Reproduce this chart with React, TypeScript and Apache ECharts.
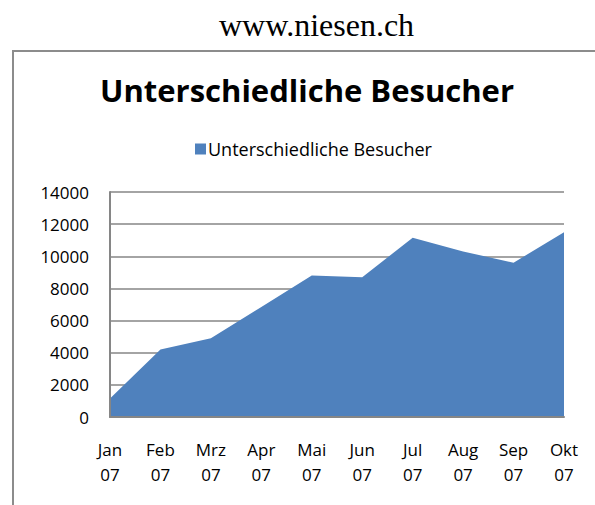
import React, { useEffect, useRef } from "react";
import * as echarts from "echarts";

const months = ["Jan\n07", "Feb\n07", "Mrz\n07", "Apr\n07", "Mai\n07", "Jun\n07", "Jul\n07", "Aug\n07", "Sep\n07", "Okt\n07"];
const visitors = [1150, 4200, 4900, 6850, 8800, 8700, 11150, 10300, 9600, 11500];
const seriesName = "Unterschiedliche Besucher";
const siteTitle = "www.niesen.ch";
const chartTitle = "Unterschiedliche Besucher";

export default function App() {
  const ref = useRef<HTMLDivElement>(null);
  useEffect(() => {
    if (!ref.current) return;
    const chart = echarts.init(ref.current, undefined, { renderer: "svg" });
    const gray = "#868686";
    chart.setOption({
      animation: false,
      backgroundColor: "#ffffff",
      title: [
        {
          text: siteTitle,
          left: 316.5,
          top: 9,
          padding: 0,
          textAlign: "center",
          textStyle: { fontFamily: "Liberation Serif", fontSize: 32, fontWeight: "normal", color: "#000" },
        },
        {
          text: chartTitle,
          left: 307,
          top: 74,
          padding: 0,
          textAlign: "center",
          textStyle: { fontFamily: "Open Sans", fontSize: 31, fontWeight: "bold", color: "#000" },
        },
      ],
      legend: {
        left: 195,
        top: 140,
        padding: 0,
        itemWidth: 11,
        itemHeight: 11,
        itemGap: 10,
        icon: "rect",
        data: [seriesName],
        textStyle: { fontFamily: "Open Sans", fontSize: 18, color: "#000", padding: [0, 0, 0, -3] },
      },
      graphic: [
        {
          type: "polyline",
          z: -10,
          shape: { points: [[13, 505], [13, 51], [595, 51]] },
          style: { fill: "none", stroke: "#8c8c8c", lineWidth: 2 },
        },
      ],
      grid: { left: 110, right: 31, top: 192, bottom: 88 },
      xAxis: [
        {
          type: "category",
          data: months,
          boundaryGap: false,
          axisLine: { show: false },
          axisTick: { show: false },
          axisLabel: { fontFamily: "Open Sans", fontSize: 17, color: "#000", lineHeight: 25, margin: 20, interval: 0 },
          splitLine: { show: false },
        },
        {
          type: "category",
          data: months,
          position: "bottom",
          boundaryGap: false,
          z: 5,
          axisLine: { show: true, lineStyle: { color: gray, width: 2 } },
          axisTick: { show: false },
          axisLabel: { show: false },
          splitLine: { show: false },
        },
      ],
      yAxis: [
        {
          type: "value",
          min: 0,
          max: 14000,
          interval: 2000,
          axisLine: { show: false },
          axisTick: { show: false },
          axisLabel: {
            fontFamily: "Open Sans",
            fontSize: 17,
            color: "#000",
            margin: 21,
            formatter: (v: number) => String(v),
          },
          splitLine: { show: true, lineStyle: { color: gray, width: 1.5 } },
        },
        {
          type: "value",
          min: 0,
          max: 14000,
          interval: 2000,
          position: "left",
          z: 5,
          axisLine: { show: true, lineStyle: { color: gray, width: 2 } },
          axisTick: { show: false },
          axisLabel: { show: false },
          splitLine: { show: false },
        },
      ],
      series: [
        {
          name: seriesName,
          type: "line",
          xAxisIndex: 0,
          yAxisIndex: 0,
          data: visitors,
          symbol: "none",
          color: "#4F81BD",
          lineStyle: { width: 0, color: "#4F81BD" },
          areaStyle: { color: "#4F81BD", opacity: 1 },
        },
      ],
    });
    return () => chart.dispose();
  }, []);
  return <div ref={ref} style={{ position: "fixed", left: 0, top: 0, width: 595, height: 505 }} />;
}
